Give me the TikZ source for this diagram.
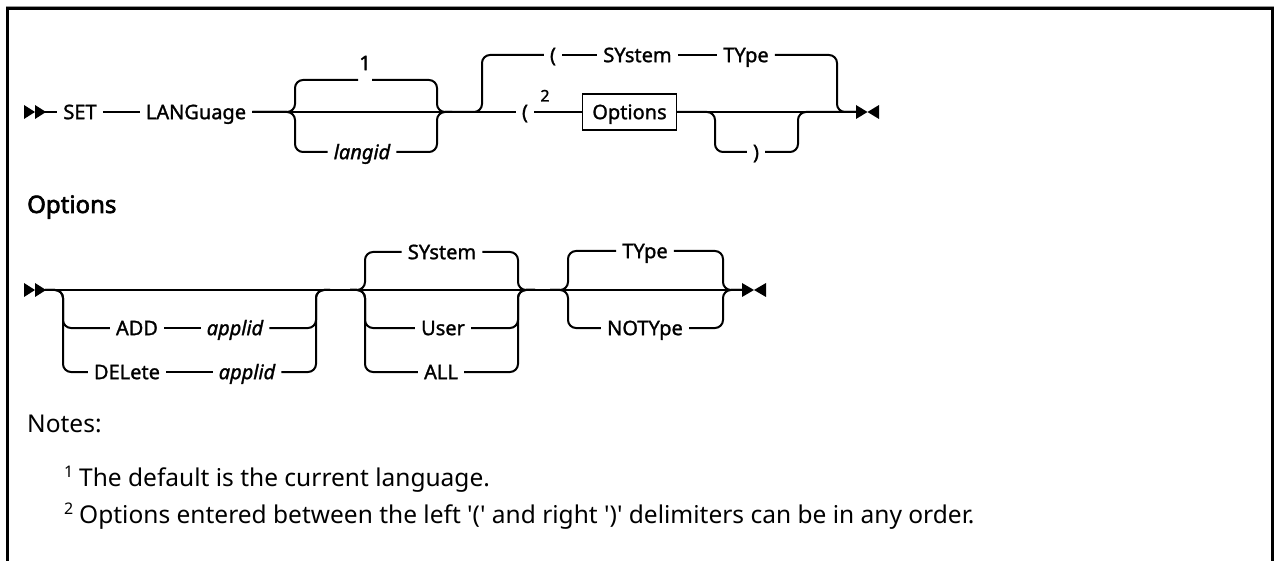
\documentclass[tikz,border=0pt]{standalone}
\usepackage{fontspec}
\newfontfamily\lblfont[FakeBold=1.4]{Noto Sans}
\newfontfamily\notefont[Ligatures=TeXOff]{Noto Sans}
\newfontfamily\headfont[FakeBold=2.6]{Noto Sans}
\begin{document}
\begin{tikzpicture}[x=1pt,y=-1pt,
  rr/.style={line width=2pt},
  rc/.style={rr, rounded corners=8pt},
  lab/.style={font=\lblfont\fontsize{20}{24}\selectfont, text height=14.3pt, text depth=0pt, inner xsep=6pt, inner ysep=0pt},
  var/.style={lab, font=\lblfont\itshape\fontsize{20}{24}\selectfont},
  optbox/.style={lab, draw, line width=1.5pt, inner xsep=10pt, inner ysep=11pt},
  supnum/.style={lab, font=\lblfont\fontsize{16}{18}\selectfont, text height=11pt, inner xsep=0pt},
  notetxt/.style={anchor=base west, inner sep=0pt, font=\notefont\fontsize{24.5}{28}\selectfont},
  notesup/.style={anchor=base west, inner sep=0pt, font=\notefont\fontsize{16}{18}\selectfont},
]
\useasboundingbox (0,0) rectangle (1274,561);
% frame
\draw[black!40, line width=1pt] (6,6.5) -- (1274,6.5);
\draw[line width=3pt] (7.5,561) -- (7.5,8.5) -- (1272.8,8.5) -- (1272.8,561);

% ---------- row 1 ----------
\fill (24,105) -- (35,112) -- (24,119) -- cycle;
\fill (35,105) -- (46,112) -- (35,119) -- cycle;
\coordinate (s1) at (45,112);
\coordinate (e1) at (857,112);
\node[lab] (SET) at (80,112) {SET};
\node[lab] (LANG) at (196,112) {LANGuage};
\node[lab] (n1) at (365,63) {1};
\node[var] (langid) at (362,152) {langid};
\node[lab] (lp1) at (525,112) {(};
\node[supnum] (n2) at (545,96) {2};
\node[optbox] (opt) at (629.5,112) {Options};
\node[lab] (rp1) at (756,152) {)};
\node[lab] (lp2) at (553,55) {(};
\node[lab] (SY1) at (637.5,55) {SYstem};
\node[lab] (TY1) at (746,55) {TYpe};

\draw[rr] (s1) -- (SET.west);
\draw[rr] (SET.east) -- (LANG.west);
\draw[rr] (LANG.east) -- (lp1.west);
\draw[rc] (LANG.east) -- (295,112) -- (295,80) -- (358,80);
\draw[rc] (372,80) -- (437,80) -- (437,112) -- (452,112);
\draw[rc] (LANG.east) -- (295,112) -- (295,152) -- (langid.west);
\draw[rc] (langid.east) -- (437,152) -- (437,112) -- (452,112);
\draw[rc] (452,112) -- (482,112) -- (482,55) -- (lp2.west);
\draw[rr] (lp2.east) -- (SY1.west);
\draw[rr] (SY1.east) -- (TY1.west);
\draw[rc] (TY1.east) -- (837,55) -- (837,112) -- (e1);
\draw[rr] (lp1.east) -- (opt.west);
\draw[rr] (opt.east) -- (e1);
\draw[rc] (opt.east) -- (715,112) -- (715,152) -- (rp1.west);
\draw[rc] (rp1.east) -- (798,152) -- (798,112) -- (e1);
\fill (856,105) -- (867.5,112) -- (856,119) -- cycle;
\fill (879,105) -- (867.5,112) -- (879,119) -- cycle;

% ---------- Options heading ----------
\node[anchor=base west, inner sep=0pt, font=\headfont\fontsize{24}{28}\selectfont] (hd) at (27,213) {Options};

% ---------- row 2 ----------
\fill (24,283) -- (35,290) -- (24,297) -- cycle;
\fill (35,283) -- (46,290) -- (35,297) -- cycle;
\coordinate (s2) at (45,290);
\coordinate (e2) at (743,290);
\draw[rr] (s2) -- (e2);
\node[lab] (ADD) at (137,328) {ADD};
\node[var] (apA) at (235,328) {applid};
\node[lab] (DEL) at (127,372) {DELete};
\node[var] (apD) at (247,372) {applid};
\draw[rc] (s2) -- (63,290) -- (63,328) -- (ADD.west);
\draw[rr] (ADD.east) -- (apA.west);
\draw[rc] (apA.east) -- (316,328) -- (316,290) -- (330,290);
\draw[rc] (s2) -- (63,290) -- (63,372) -- (DEL.west);
\draw[rr] (DEL.east) -- (apD.west);
\draw[rc] (apD.east) -- (316,372) -- (316,290) -- (330,290);

\node[lab] (SY2) at (442,252) {SYstem};
\node[lab] (US) at (443,328) {User};
\node[lab] (ALL) at (441,372) {ALL};
\draw[rc] (350,290) -- (365,290) -- (365,252) -- (SY2.west);
\draw[rc] (SY2.east) -- (518,252) -- (518,290) -- (535,290);
\draw[rc] (350,290) -- (365,290) -- (365,328) -- (US.west);
\draw[rc] (US.east) -- (518,328) -- (518,290) -- (535,290);
\draw[rc] (350,290) -- (365,290) -- (365,372) -- (ALL.west);
\draw[rc] (ALL.east) -- (518,372) -- (518,290) -- (535,290);

\node[lab] (TY2) at (645,251) {TYpe};
\node[lab] (NT) at (645,328) {NOTYpe};
\draw[rc] (550,290) -- (568,290) -- (568,251) -- (TY2.west);
\draw[rc] (TY2.east) -- (723,251) -- (723,290) -- (e2);
\draw[rc] (550,290) -- (568,290) -- (568,328) -- (NT.west);
\draw[rc] (NT.east) -- (723,328) -- (723,290) -- (e2);
\fill (742,283) -- (754,290) -- (742,297) -- cycle;
\fill (766,283) -- (754,290) -- (766,297) -- cycle;

% ---------- notes ----------
\node[notetxt] (notes) at (27,432) {Notes:};
\node[notesup] (ns1) at (64,477) {1};
\node[notetxt] (nt1) at (79,486) {The default is the current language.};
\node[notesup] (ns2) at (64,514) {2};
\node[notetxt] (nt2) at (79,523) {Options entered between the left '(' and right ')' delimiters can be in any order.};
\end{tikzpicture}
\end{document}
